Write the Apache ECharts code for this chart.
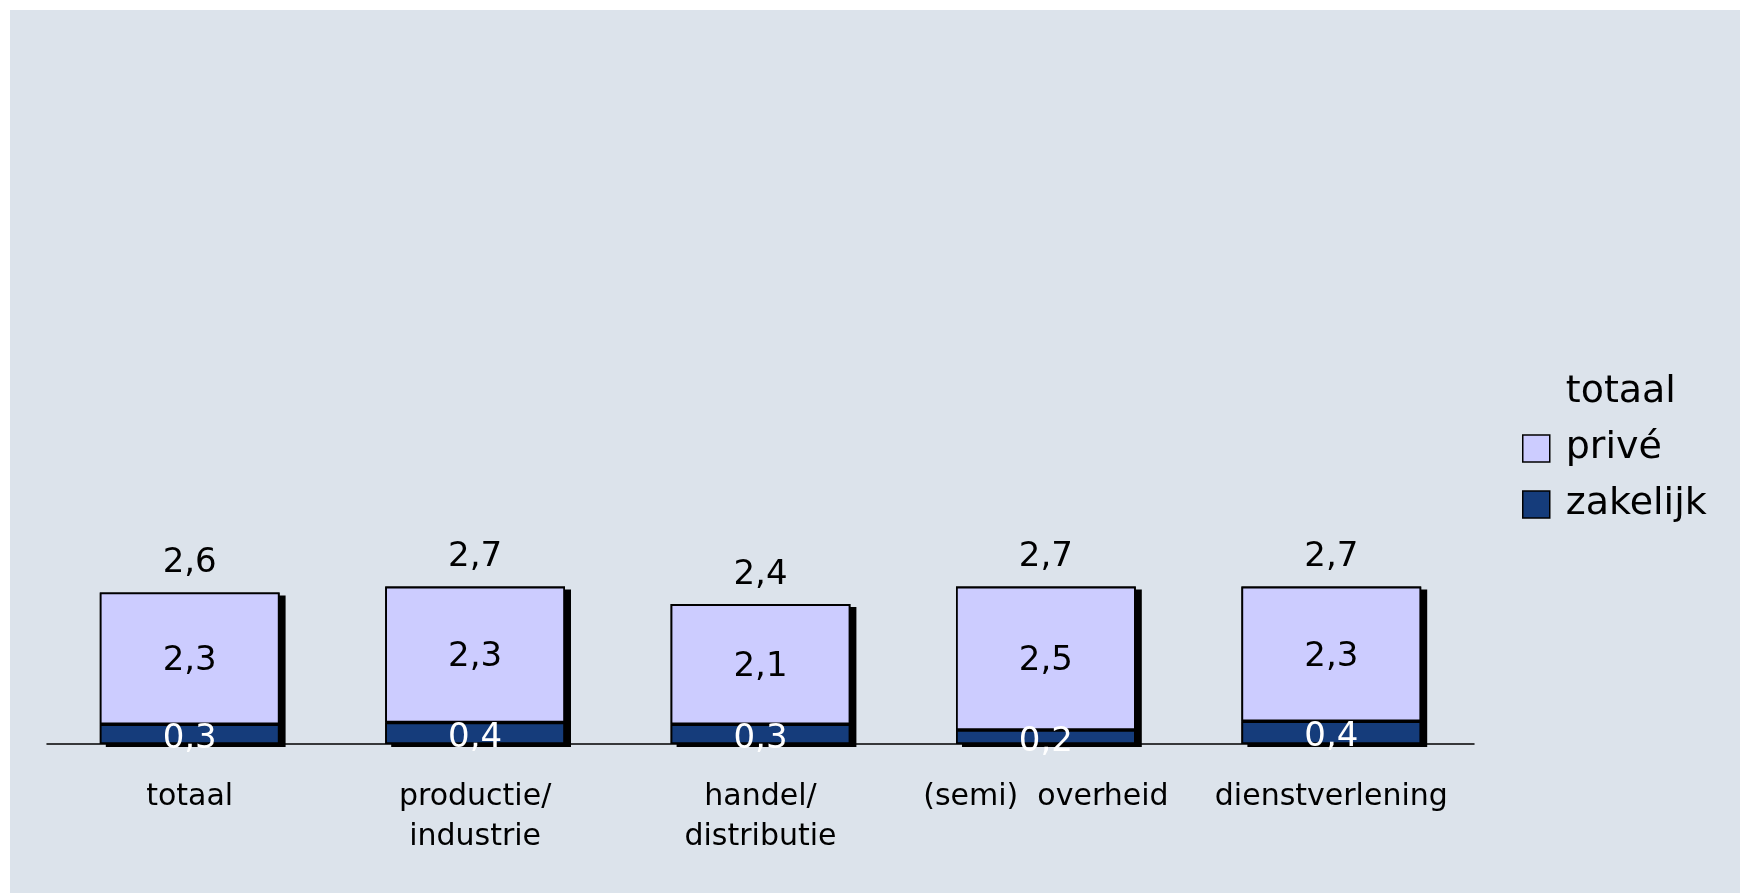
<!DOCTYPE html>
<html>
<head>
<meta charset="utf-8">
<script src="https://cdn.jsdelivr.net/npm/echarts@6/dist/echarts.min.js"></script>
<style>
  html, body { margin: 0; padding: 0; background: #ffffff; }
  #panel { position: absolute; left: 10px; top: 10px; width: 1730px; height: 883px; background: #DCE3EB; }
  #chart { position: absolute; left: 0; top: 0; width: 1744px; height: 893px; }
</style>
</head>
<body>
<div id="panel"></div>
<div id="chart"></div>
<script>
const categories = ['totaal', 'productie/\nindustrie', 'handel/\ndistributie', '(semi)  overheid', 'dienstverlening'];
const prive = [2.26, 2.33, 2.06, 2.46, 2.31];
const zakelijk = [0.34, 0.37, 0.34, 0.24, 0.39];
const totaal = [2.6, 2.7, 2.4, 2.7, 2.7];

const FONT = 'DejaVu Sans';
const fmt = p => p.value.toFixed(1).replace('.', ',');

const chart = echarts.init(document.getElementById('chart'), null, { renderer: 'canvas' });
chart.setOption({
  backgroundColor: 'transparent',
  animation: false,
  textStyle: { fontFamily: FONT },
  grid: { left: 47, right: 270, top: 161, bottom: 149, containLabel: false },
  legend: {
    orient: 'vertical',
    left: 1517,
    top: 366,
    icon: 'rect',
    itemWidth: 27,
    itemHeight: 27,
    itemGap: 13,
    selectedMode: false,
    textStyle: { fontSize: 38, lineHeight: 43, color: '#000', fontFamily: FONT, padding: [0, 0, 0, 11] },
    itemStyle: { borderColor: '#000', borderWidth: 1.5, shadowBlur: 0, shadowOffsetX: 0, shadowOffsetY: 0, shadowColor: 'transparent' },
    data: [
      { name: 'totaal', itemStyle: { color: 'transparent', borderWidth: 0, borderColor: 'transparent' } },
      { name: 'privé' },
      { name: 'zakelijk' }
    ]
  },
  xAxis: {
    type: 'category',
    data: categories,
    axisLine: { show: true, lineStyle: { color: '#000', width: 1.5 } },
    axisTick: { show: false },
    axisLabel: { interval: 0, fontSize: 30, lineHeight: 40, margin: 33, color: '#000', fontFamily: FONT }
  },
  yAxis: {
    type: 'value',
    min: 0,
    max: 10,
    show: false,
    splitLine: { show: false }
  },
  series: [
    {
      name: 'zakelijk',
      type: 'bar',
      stack: 'a',
      data: zakelijk,
      z: 3,
      barCategoryGap: '37%',
      barGap: '-100%',
      itemStyle: { color: '#153C7B', borderColor: '#000', borderWidth: 1.8 },
      label: { show: true, position: 'inside', offset: [0, 5], color: '#fff', fontSize: 34, fontFamily: FONT, formatter: fmt }
    },
    {
      name: 'privé',
      type: 'bar',
      stack: 'a',
      data: prive,
      z: 2,
      barCategoryGap: '37%',
      barGap: '-100%',
      itemStyle: { color: '#CCCCFF', borderColor: '#000', borderWidth: 1.8 },
      label: { show: true, position: 'inside', offset: [0, 3], color: '#000', fontSize: 34, fontFamily: FONT, formatter: fmt }
    },
    {
      name: 'totaal',
      type: 'bar',
      data: totaal,
      z: 1,
      silent: true,
      barCategoryGap: '37%',
      barGap: '-100%',
      itemStyle: { color: '#000', borderWidth: 0, shadowBlur: 0, shadowOffsetX: 6, shadowOffsetY: 3, shadowColor: '#000' },
      label: { show: true, position: 'top', distance: 12, color: '#000', fontSize: 34, fontFamily: FONT, formatter: fmt }
    }
  ]
});
</script>
</body>
</html>
